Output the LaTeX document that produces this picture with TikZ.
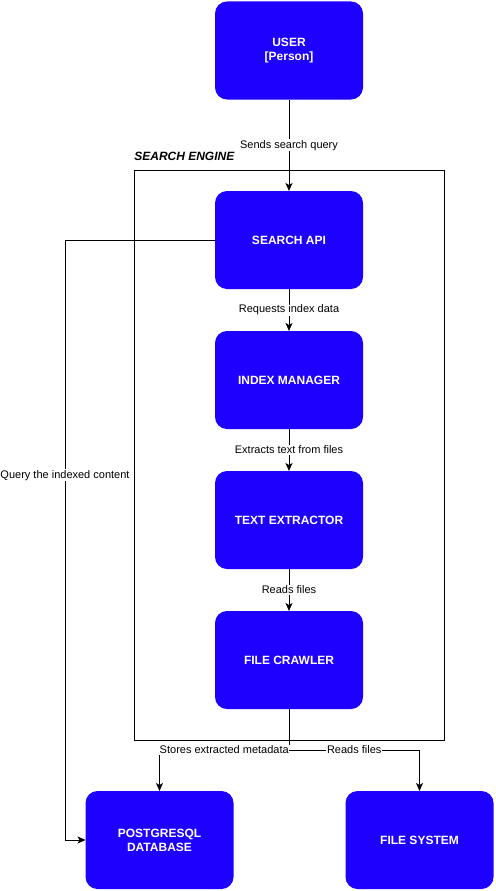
\documentclass[tikz,border=0pt]{standalone}
\usepackage{fontspec}
\setmainfont{Liberation Sans}
\usepackage{xcolor}
\usepackage{tikz}
\usetikzlibrary{arrows.meta,positioning}
\definecolor{boxblue}{RGB}{30,0,255}

\begin{document}
\begin{tikzpicture}[>={Stealth[length=8pt,width=7pt,inset=2pt]},x=1pt,y=1pt,node distance=42pt,line width=1pt,
	box/.style={rectangle,rounded corners=12pt,fill=boxblue,text=white,
		font=\fontsize{12}{14}\selectfont\bfseries,align=center,
		minimum width=148pt,minimum height=98pt,inner sep=0pt,outer sep=0pt},
	lbl/.style={fill=white,font=\fontsize{11}{13}\selectfont,inner sep=1pt}]
	\useasboundingbox (0,0) rectangle (495,-891);
	\node[draw,minimum width=310pt,minimum height=570pt,inner sep=0pt] (engine) at (289,-455) {};
	\node[anchor=base west,font=\fontsize{12}{14}\selectfont\bfseries\itshape]
		at ([xshift=-3pt,yshift=9.5pt]engine.north west) {SEARCH ENGINE};
	
	\node[box]         (user) at (289,-50.5) {USER\\{[Person]}};
	\node[box]         (api) [below=91.5pt of user] {SEARCH API};
	\node[box]         (index) [below=of api] {INDEX MANAGER};
	\node[box]         (extractor) [below=of index] {TEXT EXTRACTOR};
	\node[box]         (crawler) [below=of extractor] {FILE CRAWLER};
	\node[box]         (db) at (159.5,-840) {POSTGRESQL\\DATABASE};
	\node[box]         (fs) at (419.5,-840) {FILE SYSTEM};
	
	\path[->]
	(user) edge node[lbl] {Sends search query} (api)
	(api) edge node[lbl] {Requests index data} (index)
	(index) edge node[lbl] {Extracts text from files} (extractor)
	(extractor) edge node[lbl] {Reads files} (crawler);
	
	\draw[->] (api.west) -- ++(-150,0) |- node[lbl,pos=0.196] {Query the indexed content} (db.west);
	\draw (crawler.south) -- ++(0,-41) coordinate (split);
	\draw[->] (split) -| node[lbl,pos=0.25] {Stores extracted metadata} (db.north);
	\draw[->] (split) -| node[lbl,pos=0.25] {Reads files} (fs.north);
\end{tikzpicture}
\end{document}
